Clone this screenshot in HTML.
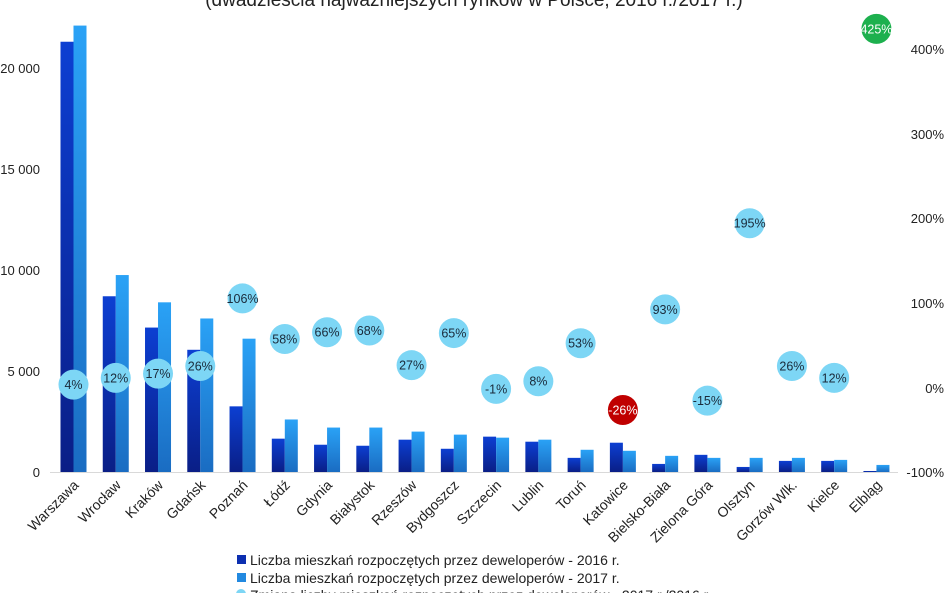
<!DOCTYPE html>
<html><head><meta charset="utf-8"><style>
html,body{margin:0;padding:0;background:#fff;}
svg{display:block;font-family:"Liberation Sans",sans-serif;}
</style></head><body>
<svg width="948" height="593" viewBox="0 0 948 593" xmlns="http://www.w3.org/2000/svg">
<defs>
<linearGradient id="gd" x1="0" y1="1" x2="0" y2="0"><stop offset="0" stop-color="#0a1e86"/><stop offset="1" stop-color="#0c3fd2"/></linearGradient>
<linearGradient id="gl" x1="0" y1="1" x2="0" y2="0"><stop offset="0" stop-color="#1a6cc2"/><stop offset="1" stop-color="#2aa2f6"/></linearGradient>
</defs>
<text x="474" y="6" font-size="19" text-anchor="middle" fill="#222">(dwadzieścia najważniejszych rynków w Polsce, 2016 r./2017 r.)</text>
<g font-size="13" fill="#222" text-anchor="end">
<text x="40" y="477">0</text><text x="40" y="376">5 000</text><text x="40" y="275">10 000</text><text x="40" y="174">15 000</text><text x="40" y="73">20 000</text>
</g>
<g font-size="13" fill="#222" text-anchor="end">
<text x="944" y="477">-100%</text><text x="944" y="393">0%</text><text x="944" y="308">100%</text><text x="944" y="223">200%</text><text x="944" y="139">300%</text><text x="944" y="54">400%</text>
</g>
<line x1="50" y1="472.5" x2="898" y2="472.5" stroke="#d9d9d9" stroke-width="1"/>
<g id="bars"></g>
<g id="bub"></g>
<g id="lab"></g>
<g font-size="14" fill="#222">
<rect x="237" y="555" width="9" height="9" fill="#0c2fb0"/><text x="250" y="565">Liczba mieszkań rozpoczętych przez deweloperów - 2016 r.</text>
<rect x="237" y="573" width="9" height="9" fill="#2289e0"/><text x="250" y="583">Liczba mieszkań rozpoczętych przez deweloperów - 2017 r.</text>
<circle cx="241" cy="594" r="5" fill="#7dd6f5"/><text x="250" y="600">Zmiana liczby mieszkań rozpoczętych przez deweloperów - 2017 r./2016 r.</text>
</g>
<script>
var names=["Warszawa","Wrocław","Kraków","Gdańsk","Poznań","Łódź","Gdynia","Białystok","Rzeszów","Bydgoszcz","Szczecin","Lublin","Toruń","Katowice","Bielsko-Biała","Zielona Góra","Olsztyn","Gorzów Wlk.","Kielce","Elbląg"];
var a=[21300,8700,7150,6050,3250,1650,1350,1300,1600,1150,1750,1500,700,1450,400,850,250,550,550,50];
var b=[22100,9750,8400,7600,6600,2600,2200,2200,2000,1850,1700,1600,1100,1050,800,700,700,700,600,350];
var p=[4,12,17,26,106,58,66,68,27,65,-1,8,53,-26,93,-15,195,26,12,425];
var ns="http://www.w3.org/2000/svg",B=document.getElementById("bars"),U=document.getElementById("bub"),L=document.getElementById("lab");
function el(t,at,par,txt){var e=document.createElementNS(ns,t);for(var k in at)e.setAttribute(k,at[k]);if(txt!=null)e.textContent=txt;par.appendChild(e);return e;}
for(var i=0;i<20;i++){
 var c=73.5+i*42.26;
 var h1=a[i]*0.0202,h2=b[i]*0.0202;
 el("rect",{x:c-13,y:472-h1,width:13,height:h1,fill:"url(#gd)"},B);
 el("rect",{x:c,y:472-h2,width:13,height:h2,fill:"url(#gl)"},B);
 var y=388-p[i]*0.845;
 var col=p[i]==425?"#1db04e":(p[i]==-26?"#c00000":"#7dd6f5");
 var tc=(p[i]==425||p[i]==-26)?"#fff":"#1a2a3a";
 el("circle",{cx:c,cy:y,r:15,fill:col},U);
 el("text",{x:c,y:y+4.5,"font-size":12.5,"text-anchor":"middle",fill:tc},U,p[i]+"%");
 el("text",{x:0,y:0,"font-size":14,"text-anchor":"end",fill:"#222",transform:"translate("+(c+6)+",486) rotate(-45)"},L,names[i]);
}
</script>
</svg>
</body></html>
